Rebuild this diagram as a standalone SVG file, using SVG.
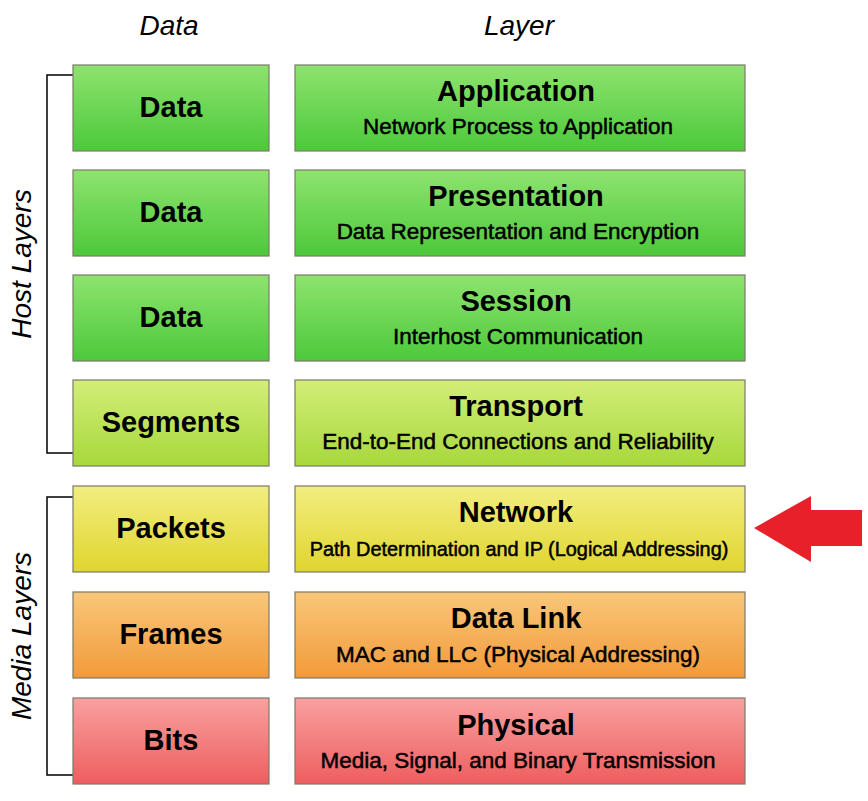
<svg xmlns="http://www.w3.org/2000/svg" width="868" height="801" viewBox="0 0 868 801">
<style>
.b{stroke:#7a7a6a;stroke-width:1.2}
.t{font-family:"Liberation Sans",Arial,sans-serif;font-weight:bold;fill:#000;text-anchor:middle;font-size:29px}
.s{font-family:"Liberation Sans",Arial,sans-serif;fill:#000;stroke:#000;stroke-width:0.5;text-anchor:middle;font-size:22.5px}
.h{font-family:"Liberation Sans",Arial,sans-serif;font-style:italic;fill:#000;text-anchor:middle;font-size:28px}
.br{fill:none;stroke:#000;stroke-width:1.5}
</style>
<defs>
<linearGradient id="g1" x1="0" y1="0" x2="0" y2="1"><stop offset="0" stop-color="#8ee36f"/><stop offset="1" stop-color="#4cc93a"/></linearGradient>
<linearGradient id="g2" x1="0" y1="0" x2="0" y2="1"><stop offset="0" stop-color="#d3ee78"/><stop offset="1" stop-color="#a8d83c"/></linearGradient>
<linearGradient id="g3" x1="0" y1="0" x2="0" y2="1"><stop offset="0" stop-color="#f2ee80"/><stop offset="1" stop-color="#e0d52e"/></linearGradient>
<linearGradient id="g4" x1="0" y1="0" x2="0" y2="1"><stop offset="0" stop-color="#f9c77a"/><stop offset="1" stop-color="#f29a3a"/></linearGradient>
<linearGradient id="g5" x1="0" y1="0" x2="0" y2="1"><stop offset="0" stop-color="#f9a0a0"/><stop offset="1" stop-color="#ee5e5e"/></linearGradient>
</defs>
<rect width="868" height="801" fill="#fff"/>
<text class="h" x="169" y="35">Data</text>
<text class="h" x="519" y="35">Layer</text>
<text class="h" transform="translate(31,264) rotate(-90)">Host Layers</text>
<text class="h" transform="translate(31,636) rotate(-90)">Media Layers</text>
<g id="brackets">
<path class="br" d="M73,75 H47 V453 H73"/>
<path class="br" d="M73,497 H47 V775 H73"/>
</g>
<g id="r1"><rect class="b" x="73" y="65" width="196" height="86" fill="url(#g1)"/><text class="t" x="171" y="117">Data</text>
<rect class="b" x="295" y="65" width="450" height="86" fill="url(#g1)"/><text class="t" x="516" y="101">Application</text><text class="s" x="518" y="134">Network Process to Application</text></g>
<g id="r2"><rect class="b" x="73" y="170" width="196" height="86" fill="url(#g1)"/><text class="t" x="171" y="222">Data</text>
<rect class="b" x="295" y="170" width="450" height="86" fill="url(#g1)"/><text class="t" x="516" y="206">Presentation</text><text class="s" x="518" y="239">Data Representation and Encryption</text></g>
<g id="r3"><rect class="b" x="73" y="275" width="196" height="86" fill="url(#g1)"/><text class="t" x="171" y="327">Data</text>
<rect class="b" x="295" y="275" width="450" height="86" fill="url(#g1)"/><text class="t" x="516" y="311">Session</text><text class="s" x="518" y="344">Interhost Communication</text></g>
<g id="r4"><rect class="b" x="73" y="380" width="196" height="86" fill="url(#g2)"/><text class="t" x="171" y="432">Segments</text>
<rect class="b" x="295" y="380" width="450" height="86" fill="url(#g2)"/><text class="t" x="516" y="416">Transport</text><text class="s" x="518" y="449">End-to-End Connections and Reliability</text></g>
<g id="r5"><rect class="b" x="73" y="486" width="196" height="86" fill="url(#g3)"/><text class="t" x="171" y="538">Packets</text>
<rect class="b" x="295" y="486" width="450" height="86" fill="url(#g3)"/><text class="t" x="516" y="522">Network</text><text class="s" x="519" y="556" style="font-size:19.9px">Path Determination and IP (Logical Addressing)</text></g>
<g id="r6"><rect class="b" x="73" y="592" width="196" height="86" fill="url(#g4)"/><text class="t" x="171" y="644">Frames</text>
<rect class="b" x="295" y="592" width="450" height="86" fill="url(#g4)"/><text class="t" x="516" y="628">Data Link</text><text class="s" x="518" y="662">MAC and LLC (Physical Addressing)</text></g>
<g id="r7"><rect class="b" x="73" y="698" width="196" height="86" fill="url(#g5)"/><text class="t" x="171" y="750">Bits</text>
<rect class="b" x="295" y="698" width="450" height="86" fill="url(#g5)"/><text class="t" x="516" y="735">Physical</text><text class="s" x="518" y="768">Media, Signal, and Binary Transmission</text></g>
<g id="arrow"><polygon points="754,528 811,496 811,510 862,510 862,546 811,546 811,562" fill="#e8202a"/></g>
</svg>
